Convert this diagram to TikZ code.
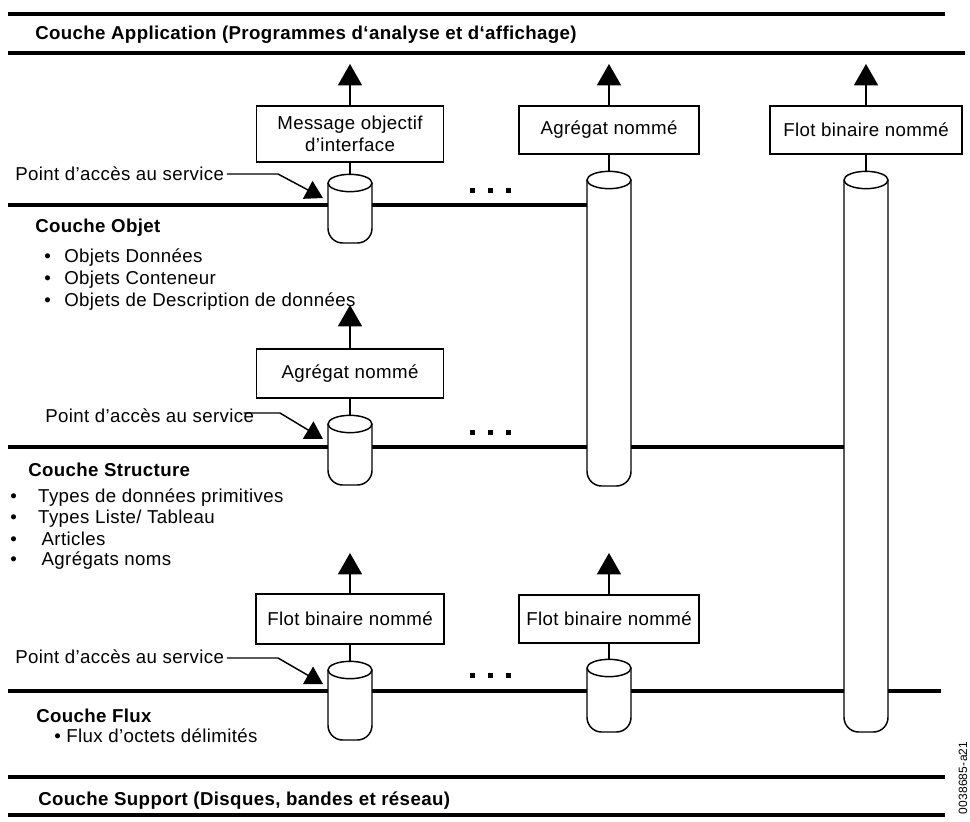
\documentclass[tikz,border=0pt]{standalone}
\usepackage{fontspec}
\setmainfont{Liberation Sans}[LetterSpace=2]
\usetikzlibrary{arrows.meta}
\newcommand{\drawcyl}[4]{% name, x, ellipse centre y, bottom y
  \draw[conn, fill=white, rounded corners=11pt] ({#2-22},#3) -- ({#2-22},#4) -- ({#2+22},#4) -- ({#2+22},#3);
  \draw[conn, fill=white] (#2,#3) ellipse [x radius=16.5pt, y radius=6.5pt];
  \coordinate (#1) at (#2,{#3-8.7});
}
\begin{document}
\begin{tikzpicture}[x=0.75pt,y=-0.75pt,
  every node/.style={inner sep=0pt, font=\fontsize{14}{16.5}\selectfont},
  layer/.style={line width=3pt},
  conn/.style={line width=1.1pt},
  box/.style={draw, line width=1.1pt, align=center, fill=white},
  uparrow/.style={conn, -{Triangle[width=18pt,length=16pt]}},
  leader/.style={conn, -{Triangle[width=15pt,length=13pt]}},
  txt/.style={anchor=base west},
  head/.style={anchor=base west, font=\fontsize{14}{16.5}\selectfont\bfseries},
  dot/.style={fill=black, minimum size=3.75pt, inner sep=0pt}
]
\useasboundingbox (0,0) rectangle (970,821);
\fill[white] (0,0) rectangle (970,821);

% layer boundaries
\draw[layer] (8,14) -- (945,14);
\draw[layer] (8,53) -- (965,53);
\draw[layer] (8,205) -- (609,205);
\draw[layer] (8,447) -- (866,447);
\draw[layer] (8,691) -- (941,691);
\draw[layer] (8,777) -- (945,777);
\draw[layer] (8,815) -- (945,815);

% cylinders (service access points)
\drawcyl{cA}{350}{183}{243}
\drawcyl{cB}{609}{180}{486}
\drawcyl{cC}{866}{180}{732}
\drawcyl{cD}{350}{424}{485}
\drawcyl{cE}{350}{670}{740}
\drawcyl{cF}{609}{668}{732}

% boxes
\node[box, minimum width=140pt, minimum height=42pt] (bA) at (350,134) {Message objectif\\d’interface};
\node[box, minimum width=135pt, minimum height=36pt] (bB) at (609,130) {Agrégat nommé};
\node[box, minimum width=144pt, minimum height=36pt] (bC) at (866,130) {Flot binaire nommé};
\node[box, minimum width=140pt, minimum height=36.75pt] (bD) at (350,373.5) {Agrégat nommé};
\node[box, minimum width=141pt, minimum height=37.5pt] (bE) at (350,619) {Flot binaire nommé};
\node[box, minimum width=135pt, minimum height=36pt] (bF) at (609,619) {Flot binaire nommé};

% arrow tips targets
\coordinate (tA) at (350,64);
\coordinate (tB) at (609,64);
\coordinate (tC) at (866,64);
\coordinate (tD) at (350,305);
\coordinate (tE) at (350,553);
\coordinate (tF) at (609,553);

% connectors
\foreach \b/\c/\t in {bA/cA/tA, bB/cB/tB, bC/cC/tC, bD/cD/tD, bE/cE/tE, bF/cF/tF}{
  \draw[conn] (\b.south) -- (\c);
  \draw[uparrow] (\b.north) -- (\t);
}

% service access point labels
\node[txt] (pA) at (15,180) {Point d’accès au service};
\coordinate (kA) at (278,174);
\coordinate (aA) at (323,198);
\draw[leader] ([xshift=2pt]pA.east |- kA) -- (kA) -- (aA);

\node[txt] (pB) at (45,422) {Point d’accès au service};
\coordinate (kB) at (280,413);
\coordinate (aB) at (323,439);
\draw[leader] ([xshift=-8pt]pB.east |- kB) -- (kB) -- (aB);

\node[txt] (pC) at (15,663) {Point d’accès au service};
\coordinate (kC) at (278,658);
\coordinate (aC) at (323,684);
\draw[leader] ([xshift=2pt]pC.east |- kC) -- (kC) -- (aC);

% dots
\foreach \y [count=\i] in {190,432,675}{
  \node[dot] (d\i a) at (472,\y) {};
  \node[dot] (d\i b) at (490,\y) {};
  \node[dot] (d\i c) at (508,\y) {};
}

% layer texts
\node[head] (tApp) at (35,39) {Couche Application (Programmes d‘analyse et d‘affichage)};

\node[head] (hObj) at (35,232) {Couche Objet};
\node[txt] (o1) at (44,262) {\makebox[15pt][l]{•}Objets Données};
\node[txt] (o2) at (44,284) {\makebox[15pt][l]{•}Objets Conteneur};
\node[txt] (o3) at (44,306) {\makebox[15pt][l]{•}Objets de Description de données};

\node[head] (hStr) at (28,476) {Couche Structure};
\node[txt] (s1) at (10,502) {\makebox[21pt][l]{•}Types de données primitives};
\node[txt] (s2) at (10,523) {\makebox[21pt][l]{•}Types Liste/ Tableau};
\node[txt] (s3) at (10,545) {\makebox[23.5pt][l]{•}Articles};
\node[txt] (s4) at (10,565) {\makebox[23.5pt][l]{•}Agrégats noms};

\node[head] (hFlux) at (36,722) {Couche Flux};
\node[txt] (f1) at (54,742) {• Flux d’octets délimités};

\node[head] (hSup) at (38,805) {Couche Support (Disques, bandes et réseau)};

\node[rotate=90, anchor=base, font=\fontsize{9}{11}\selectfont] (fig) at (967,778) {0038685-a21};
\end{tikzpicture}
\end{document}
